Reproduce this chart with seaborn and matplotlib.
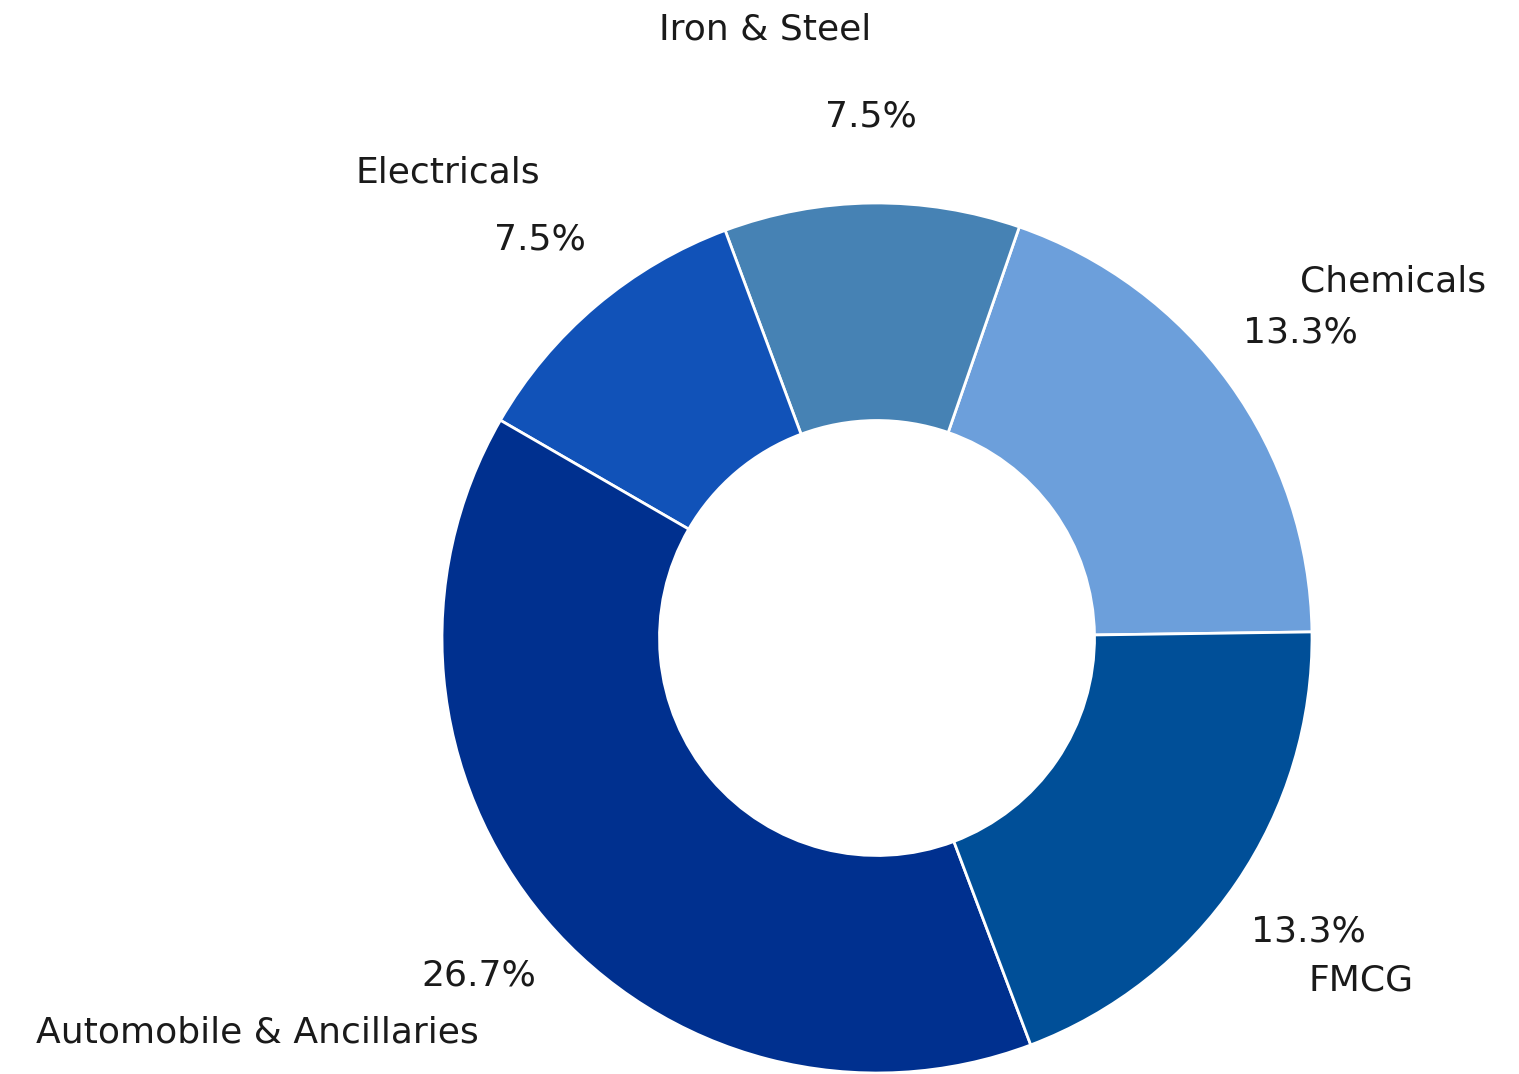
import numpy as np
import seaborn as sns
from matplotlib import pyplot as plt

# sector shares (percent of portfolio), in drawing order from 0 degrees
sectors = ["Chemicals", "Iron & Steel", "Electricals",
           "Automobile & Ancillaries", "FMCG"]
shares = [13.3, 7.5, 7.5, 26.7, 13.3]
colours = ["#6c9fdb", "#4682b4", "#1152b8", "#00308f", "#004f98"]

sns.set_theme(style="white")
plt.rcParams["font.family"] = ["DejaVu Sans"]

fig = plt.figure(figsize=(7.595, 5.37), dpi=200)
ax = fig.add_axes([0, 0, 1, 1])

total = sum(shares)
wedges, texts, autotexts = ax.pie(
    shares, labels=sectors, colors=colours, startangle=0.8,
    autopct=lambda p: "{:.1f}%".format(p * total / 100),
    pctdistance=1.2, labeldistance=1.2,
    wedgeprops=dict(width=0.5, edgecolor="white", linewidth=1.0),
    textprops=dict(fontsize=13, color="#1a1a1a"))

# push the sector names further out vertically so they clear the percentages
for t in texts:
    x, y = t.get_position()
    t.set_position((x, y * 1.4 / 1.2))

ax.set_xlim(-877 / 435, (1519 - 877) / 435)
ax.set_ylim(-(1074 - 638) / 435, 638 / 435)
ax.set_aspect("equal")
ax.axis("off")

fig.savefig("out.png", dpi=200)
